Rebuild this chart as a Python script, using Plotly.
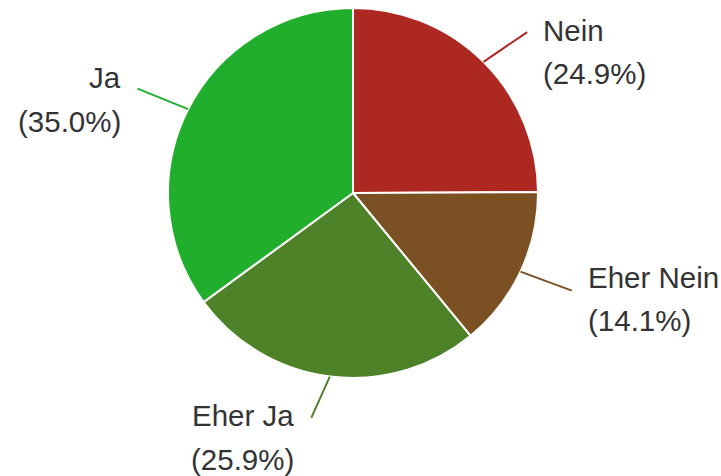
import math
import plotly.graph_objects as go

labels = ["Nein", "Eher Nein", "Eher Ja", "Ja"]
values = [24.9, 14.1, 25.9, 35.0]
colors = ["#AE2822", "#7B5123", "#4E8228", "#22AE2D"]

# layout constants (pixels)
W, H = 721, 476
CX, CY, R = 353, 193, 185
line_end_ratio = [1.282, 1.295, 1.236, 1.294]
line_end_turn = [2.4, -1.1, 3.3, -1.1]  # degrees
label_dy = [-2, -13.5, -2, -11]
text_gap = [14, 14, 15, 15]
line_gap = 43.5
font = dict(family="Liberation Sans, Arial, sans-serif", size=29.5, color="#333333")


def px(x):
    return x / W


def py(y):
    return 1 - y / H


fig = go.Figure(go.Pie(
    labels=labels, values=values, sort=False, direction="clockwise", rotation=0,
    marker=dict(colors=colors, line=dict(color="white", width=2)),
    textinfo="none", showlegend=False,
    domain=dict(x=[px(CX - R), px(CX + R)], y=[py(CY + R), py(CY - R)]),
))

total = sum(values)
shapes, annotations = [], []
cum = 0.0
for lab, v, col, ratio, turn, dy, gap in zip(labels, values, colors, line_end_ratio,
                                            line_end_turn, label_dy, text_gap):
    mid = (cum + v / 2) / total * 2 * math.pi
    cum += v
    end = mid + math.radians(turn)
    sx, sy = CX + R * math.sin(mid), CY - R * math.cos(mid)
    ex, ey = CX + R * ratio * math.sin(end), CY - R * ratio * math.cos(end)
    shapes.append(dict(type="line", xref="paper", yref="paper",
                       x0=px(sx), y0=py(sy), x1=px(ex), y1=py(ey),
                       line=dict(color=col, width=2)))
    right = math.sin(mid) >= 0
    tx = ex + gap if right else ex - gap
    anchor = "left" if right else "right"
    for i, txt in enumerate([lab, f"({v:.1f}%)"]):
        annotations.append(dict(
            x=px(tx), y=py(ey + dy + i * line_gap), xref="paper", yref="paper",
            text=txt, showarrow=False, xanchor=anchor, yanchor="middle",
            align=anchor, font=font))

fig.update_layout(
    width=W, height=H, margin=dict(l=0, r=0, t=0, b=0),
    paper_bgcolor="white", plot_bgcolor="white",
    shapes=shapes, annotations=annotations,
)
fig.write_html(
    "out.html",
    config={"displayModeBar": False},
    post_script="document.body.style.margin='0';document.body.style.overflow='hidden';",
)
